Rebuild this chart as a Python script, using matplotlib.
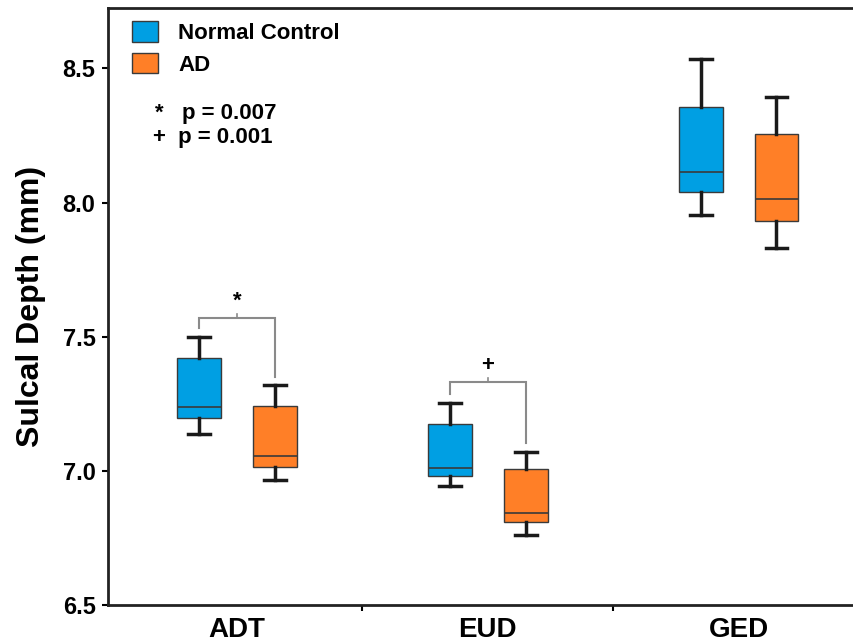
import numpy as np
import matplotlib.pyplot as plt
from matplotlib.patches import Patch

plt.rcParams['font.family'] = ['Liberation Sans', 'DejaVu Sans']

# data (mm)
categories = ['ADT', 'EUD', 'GED']
groups = ['Normal Control', 'AD']
# per category: whisker low, Q1, median, Q3, whisker high
nc_stats = [
    [7.139, 7.199, 7.239, 7.422, 7.500],
    [6.944, 6.982, 7.013, 7.177, 7.255],
    [7.953, 8.040, 8.113, 8.357, 8.534],
]
ad_stats = [
    [6.967, 7.016, 7.058, 7.243, 7.321],
    [6.763, 6.812, 6.845, 7.008, 7.073],
    [7.831, 7.931, 8.013, 8.255, 8.393],
]
# significance brackets: category index, bar height, left leg end, right leg end, symbol
sig_cat = [0, 1]
sig_y = [7.572, 7.334]
sig_left = [7.534, 7.288]
sig_right = [7.351, 7.105]
sig_sym = ['*', '+']
p_labels = ['*   p = 0.007', '+  p = 0.001']

colors = ['#009FE3', '#FF7F27']

fig = plt.figure(figsize=(8.54, 6.41), dpi=100)
ax = fig.add_axes([0.1265, 0.0554, 0.8735, 0.9317])

offset = 0.151
width = 0.175


def to_dicts(stats):
    out = []
    for lo, q1, med, q3, hi in stats:
        out.append(dict(whislo=lo, q1=q1, med=med, q3=q3, whishi=hi, fliers=[]))
    return out


x = np.arange(len(categories))
for stats, pos, col in [(nc_stats, x - offset, colors[0]), (ad_stats, x + offset, colors[1])]:
    ax.bxp(to_dicts(stats), positions=pos, widths=width, capwidths=width * 0.5,
           showfliers=False, patch_artist=True,
           boxprops=dict(facecolor=col, edgecolor='#3a3a3a', linewidth=1.0),
           medianprops=dict(color='#3a3a3a', linewidth=1.2),
           whiskerprops=dict(color='#1a1a1a', linewidth=2.5),
           capprops=dict(color='#1a1a1a', linewidth=2.5),
           manage_ticks=False)

# brackets
for c, yb, yl, yr, s in zip(sig_cat, sig_y, sig_left, sig_right, sig_sym):
    xl, xr = c - offset, c + offset
    ax.plot([xl, xl, xr, xr], [yl, yb, yb, yr], color='#8a8a8a', lw=1.5,
            solid_joinstyle='miter')
    ax.plot([c, c], [yb, yb + 0.015], color='#8a8a8a', lw=1.2)
    ax.text(c, yb + 0.022, s, ha='center', va='bottom', fontsize=16,
            fontweight='bold')

ax.set_xlim(-0.514, 2.46)
ax.set_ylim(6.5, 8.724)
ax.set_yticks([6.5, 7.0, 7.5, 8.0, 8.5])
ax.set_yticklabels(['6.5', '7.0', '7.5', '8.0', '8.5'], fontsize=17,
                   fontweight='bold')
ax.set_xticks(x)
ax.set_xticklabels(categories, fontsize=20, fontweight='bold')
ax.set_xticks([0.5, 1.5], minor=True)
ax.tick_params(axis='x', which='major', length=0, pad=8)
ax.tick_params(axis='x', which='minor', length=4, width=1.5, direction='out')
ax.tick_params(axis='y', length=4, width=1.5, pad=5)
ax.set_ylabel('Sulcal Depth (mm)', fontsize=23, fontweight='bold', labelpad=12)

for side in ['left', 'bottom', 'top']:
    ax.spines[side].set_linewidth(2)
    ax.spines[side].set_color('#222222')
ax.spines['right'].set_visible(False)

handles = [Patch(facecolor=colors[0], edgecolor='#3a3a3a'),
           Patch(facecolor=colors[1], edgecolor='#3a3a3a')]
leg = ax.legend(handles, groups, loc='upper left', bbox_to_anchor=(0.005, 1.012),
                frameon=False, prop=dict(size=16, weight='bold'),
                handlelength=1.2, handleheight=1.05, handletextpad=0.9,
                labelspacing=0.4)

fig.text(155 / 854, 1 - 114 / 641, p_labels[0], fontsize=16, fontweight='bold',
         va='center', ha='left')
fig.text(153 / 854, 1 - 138 / 641, p_labels[1], fontsize=16, fontweight='bold',
         va='center', ha='left')

fig.savefig('out.png', dpi=100)
